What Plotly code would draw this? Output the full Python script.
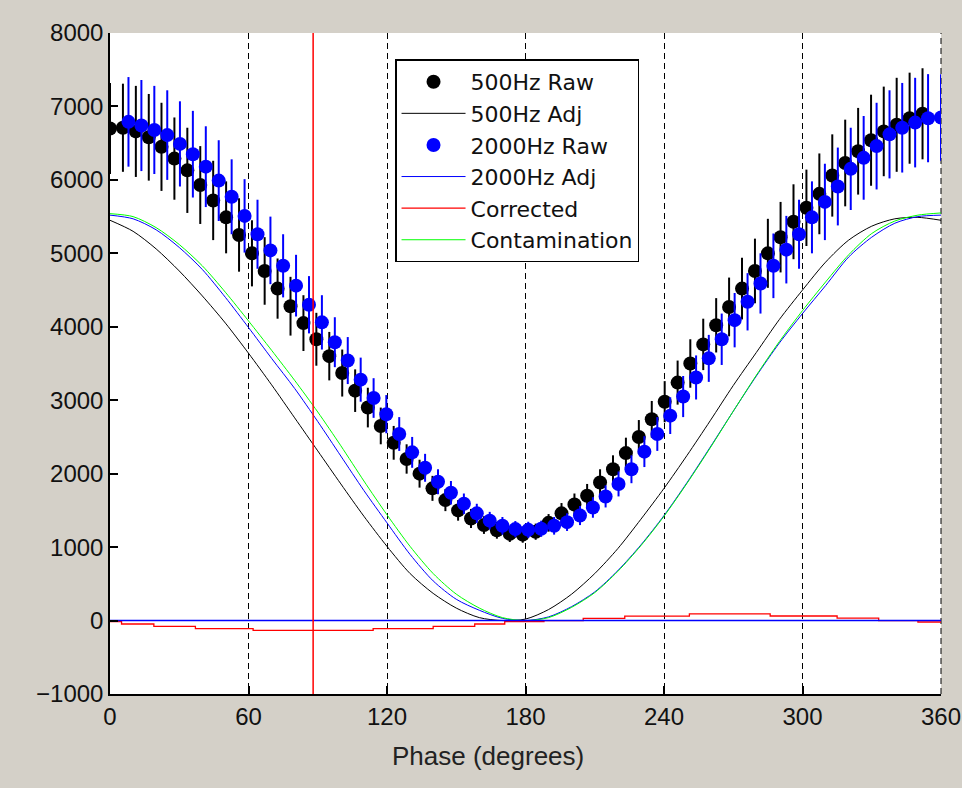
import plotly.graph_objects as go

# ---------------- data ----------------
phase_500 = [0.0, 5.6, 11.2, 16.8, 22.3, 27.9, 33.5, 39.1, 44.7, 50.3, 55.9, 61.5,
             67.0, 72.6, 78.2, 83.8, 89.4, 95.0, 100.6, 106.2, 111.7, 117.3, 122.9, 128.5,
             134.1, 139.7, 145.3, 150.8, 156.4, 162.0, 167.6, 173.2, 178.8, 184.4, 190.0, 195.6,
             201.2, 206.7, 212.3, 217.9, 223.5, 229.1, 234.7, 240.3, 245.9, 251.4, 257.0, 262.6,
             268.2, 273.8, 279.4, 285.0, 290.5, 296.1, 301.7, 307.3, 312.9, 318.5, 324.1, 329.7,
             335.2, 340.8, 346.4, 352.0]
raw_500 = [6700, 6710, 6660, 6580, 6450, 6290, 6130, 5930, 5720, 5490, 5250, 5000,
           4760, 4520, 4280, 4050, 3830, 3600, 3370, 3130, 2900, 2650, 2420, 2200,
           2000, 1800, 1640, 1500, 1390, 1300, 1230, 1180, 1170, 1210, 1330, 1460,
           1580, 1700, 1880, 2060, 2280, 2500, 2740, 2980, 3240, 3500, 3760, 4020,
           4270, 4520, 4760, 5000, 5220, 5430, 5620, 5810, 6060, 6230, 6390, 6540,
           6660, 6750, 6840, 6900]
err_500 = [620, 600, 620, 590, 600, 560, 580, 530, 540, 490, 500, 450,
           460, 410, 400, 380, 360, 330, 320, 290, 270, 250, 230, 200,
           190, 170, 150, 140, 130, 120, 115, 110, 110, 110, 120, 140,
           150, 160, 180, 190, 210, 230, 250, 280, 300, 330, 350, 370,
           400, 420, 440, 470, 480, 510, 520, 550, 560, 590, 590, 620,
           610, 640, 620, 620]

phase_2000 = [8.0, 13.6, 19.2, 24.8, 30.3, 35.9, 41.5, 47.1, 52.7, 58.3, 63.9, 69.5,
              75.0, 80.6, 86.2, 91.8, 97.4, 103.0, 108.6, 114.2, 119.7, 125.3, 130.9, 136.5,
              142.1, 147.7, 153.3, 158.9, 164.5, 170.0, 175.6, 181.2, 186.8, 192.4, 198.0, 203.6,
              209.2, 214.7, 220.3, 225.9, 231.5, 237.1, 242.7, 248.3, 253.9, 259.4, 265.0, 270.6,
              276.2, 281.8, 287.4, 293.0, 298.5, 304.1, 309.7, 315.3, 320.9, 326.5, 332.1, 337.7,
              343.2, 348.8, 354.4, 360.0]
raw_2000 = [6790, 6740, 6680, 6610, 6490, 6350, 6180, 5990, 5770, 5510, 5260, 5040,
            4830, 4560, 4300, 4060, 3790, 3540, 3280, 3030, 2810, 2540, 2290, 2080,
            1890, 1740, 1590, 1460, 1360, 1290, 1245, 1235, 1250, 1290, 1340, 1430,
            1540, 1690, 1860, 2060, 2300, 2540, 2790, 3050, 3310, 3570, 3830, 4090,
            4340, 4590, 4830, 5050, 5260, 5490, 5700, 5910, 6150, 6300, 6460, 6620,
            6710, 6780, 6840, 6850]
err_2000 = [610, 620, 600, 610, 580, 590, 550, 550, 510, 500, 470, 460,
            430, 420, 390, 370, 340, 320, 300, 270, 260, 230, 210, 190,
            170, 160, 140, 130, 120, 120, 110, 110, 110, 120, 120, 130,
            140, 150, 170, 190, 210, 230, 250, 280, 300, 320, 350, 370,
            390, 410, 440, 460, 470, 490, 520, 530, 560, 570, 590, 600,
            610, 610, 600, 590]

phase_adj = [0, 10, 20, 30, 40, 50, 60, 70, 80, 90, 100, 110, 120, 130, 140, 150, 160, 170, 180,
             190, 200, 210, 220, 230, 240, 250, 260, 270, 280, 290, 300, 310, 320, 330, 340, 350, 360]
adj_500 = [5450, 5300, 5060, 4760, 4420, 4050, 3640, 3210, 2760, 2310, 1860, 1420, 1010,
           640, 370, 170, 40, 0, 20, 150, 360, 640, 980, 1380, 1800, 2250, 2720, 3200,
           3650, 4100, 4500, 4880, 5180, 5370, 5470, 5490, 5450]
adj_2000 = [5520, 5470, 5320, 5080, 4780, 4400, 3990, 3570, 3160, 2710, 2240, 1770, 1330,
            900, 540, 290, 140, 30, 0, 50, 190, 390, 680, 1030, 1430, 1880, 2360, 2850,
            3330, 3780, 4180, 4560, 4950, 5220, 5410, 5500, 5520]
contamination = [5540, 5500, 5350, 5120, 4830, 4470, 4080, 3680, 3270, 2840, 2380, 1900, 1440,
                 1010, 640, 360, 170, 40, 0, 40, 180, 380, 670, 1020, 1420, 1870, 2350, 2850,
                 3340, 3800, 4220, 4610, 4980, 5270, 5440, 5520, 5550]

corr_phase = [0, 5, 19, 37, 62, 114, 140, 158, 171, 188, 205, 223, 251, 286, 315, 333, 350, 360]
corrected = [-15, -47, -79, -110, -133, -110, -79, -47, -15, 0, 30, 60, 92, 62, 32, 0, -20, -20]

marker_phase = [88, 88]
marker_range = [-1000, 8000]
zero_phase = [0, 360]
zero_level = [0, 0]

x_ticks = [0, 60, 120, 180, 240, 300, 360]

FONT = "Liberation Sans, Arial, sans-serif"
LEG_FONT = "DejaVu Sans, sans-serif"

fig = go.Figure()

fig.add_trace(go.Scatter(
    x=phase_500, y=raw_500, mode="markers", name="500Hz Raw",
    marker=dict(color="black", size=14),
    error_y=dict(type="data", array=err_500, color="black", thickness=2, width=0)))
fig.add_trace(go.Scatter(
    x=phase_adj, y=adj_500, mode="lines", name="500Hz Adj",
    line=dict(color="black", width=1, shape="spline", smoothing=0.8)))
fig.add_trace(go.Scatter(
    x=phase_2000, y=raw_2000, mode="markers", name="2000Hz Raw",
    marker=dict(color="#0000ff", size=14),
    error_y=dict(type="data", array=err_2000, color="#0000ff", thickness=2, width=0)))
fig.add_trace(go.Scatter(
    x=phase_adj, y=adj_2000, mode="lines", name="2000Hz Adj",
    line=dict(color="#0000ff", width=1, shape="spline", smoothing=0.8)))
fig.add_trace(go.Scatter(
    x=corr_phase, y=corrected, mode="lines", name="Corrected",
    line=dict(color="#ff0000", width=1.3, shape="hv")))
fig.add_trace(go.Scatter(
    x=phase_adj, y=contamination, mode="lines", name="Contamination",
    line=dict(color="#00ff00", width=1, shape="spline", smoothing=0.8)))
fig.add_trace(go.Scatter(
    x=zero_phase, y=zero_level, mode="lines", showlegend=False, hoverinfo="skip",
    line=dict(color="#0000ff", width=1.5)))
fig.add_trace(go.Scatter(
    x=marker_phase, y=marker_range, mode="lines", showlegend=False, hoverinfo="skip",
    line=dict(color="#ff0000", width=1.5)))

axis_common = dict(
    showline=True, linecolor="black", linewidth=1.5, mirror=False,
    ticks="inside", ticklen=8, tickcolor="black", tickwidth=1.5,
    tickfont=dict(family=FONT, size=24, color="#111111"),
    zeroline=False, automargin=False,
)

fig.update_layout(
    width=962, height=788, autosize=False,
    margin=dict(l=110, r=21, t=33, b=94),
    paper_bgcolor="#d4d0c8",
    plot_bgcolor="white",
    font=dict(family=FONT, color="#111111"),
    xaxis=dict(range=[0, 360], tickvals=x_ticks, showgrid=True, gridcolor="black",
               gridwidth=1, griddash="6px,4px", ticklabeloverflow="allow", **axis_common),
    yaxis=dict(range=[-1000, 8000], dtick=1000, showgrid=False, **axis_common),
    legend=dict(x=0.343, y=0.96, xanchor="left", yanchor="top",
                bgcolor="white", bordercolor="black", borderwidth=1.5,
                font=dict(family=LEG_FONT, size=22, color="#111111"),
                itemwidth=64, tracegroupgap=0),
    shapes=[dict(type="line", xref="x domain", yref="y domain", x0=1, x1=1, y0=0, y1=1,
                 line=dict(color="black", width=1, dash="6px,4px"), layer="below")],
    annotations=[dict(text="Phase (degrees)", xref="paper", yref="paper",
                      x=0.4544, y=-0.0944, xanchor="center", yanchor="middle",
                      showarrow=False, font=dict(family=FONT, size=26, color="#222222"))],
)

fig.write_html("out.html")
